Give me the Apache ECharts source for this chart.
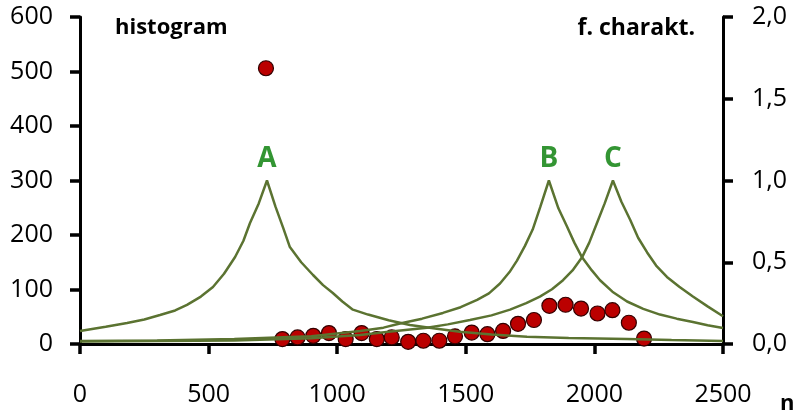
<!DOCTYPE html>
<html>
<head>
<meta charset="utf-8">
<script src="https://cdn.jsdelivr.net/npm/echarts@6/dist/echarts.min.js"></script>
<style>
html,body{margin:0;padding:0;background:#fff;}
#chart{width:797px;height:415px;}
</style>
</head>
<body>
<div id="chart"></div>
<script>
// histogram (left axis)
const histN = [723, 787, 846, 907, 968, 1033, 1095, 1154, 1212, 1276, 1335, 1397, 1458, 1523, 1584, 1645, 1703, 1765, 1825, 1888, 1948, 2012, 2070, 2134, 2193];
const histV = [506, 9, 12, 15, 20, 9, 20, 9, 12, 4, 6, 6, 14, 21, 18, 24, 37, 44, 70, 72, 65, 56, 62, 39, 10];

// frequency characteristic curves (right axis)
const curveA_n = [0, 100, 183, 250, 311, 370, 416, 470, 517, 560, 603, 635, 661, 695, 727, 760, 790, 816, 860, 906, 945, 983, 1020, 1061, 1120, 1200, 1283, 1380, 1477, 1600, 1738, 1900, 2127, 2300, 2500];
const curveA_v = [0.08, 0.105, 0.128, 0.15, 0.177, 0.205, 0.239, 0.29, 0.349, 0.43, 0.532, 0.63, 0.74, 0.86, 1.0, 0.84, 0.71, 0.593, 0.50, 0.422, 0.36, 0.312, 0.26, 0.21, 0.18, 0.145, 0.116, 0.095, 0.075, 0.058, 0.045, 0.037, 0.03, 0.024, 0.018];

const curveB_n = [0, 300, 600, 900, 1089, 1180, 1244, 1330, 1411, 1480, 1544, 1590, 1633, 1670, 1699, 1730, 1760, 1790, 1823, 1860, 1893, 1922, 1952, 1990, 2022, 2070, 2127, 2190, 2255, 2320, 2383, 2440, 2500];
const curveB_v = [0.018, 0.022, 0.03, 0.048, 0.08, 0.10, 0.125, 0.155, 0.19, 0.225, 0.27, 0.31, 0.37, 0.44, 0.51, 0.60, 0.70, 0.84, 1.0, 0.83, 0.72, 0.62, 0.53, 0.45, 0.39, 0.32, 0.26, 0.215, 0.18, 0.155, 0.135, 0.115, 0.098];

const curveC_n = [0, 300, 600, 900, 1089, 1200, 1349, 1430, 1516, 1600, 1672, 1735, 1788, 1835, 1878, 1915, 1952, 1980, 2010, 2040, 2072, 2105, 2139, 2170, 2205, 2240, 2282, 2330, 2383, 2440, 2500];
const curveC_v = [0.015, 0.018, 0.022, 0.035, 0.055, 0.075, 0.10, 0.12, 0.147, 0.175, 0.21, 0.25, 0.29, 0.335, 0.39, 0.45, 0.53, 0.62, 0.74, 0.86, 1.0, 0.87, 0.76, 0.65, 0.56, 0.48, 0.41, 0.35, 0.29, 0.23, 0.17];

const peakNames = ['A', 'B', 'C'];
const peakN = [727, 1823, 2072];
const peakV = [1.0, 1.0, 1.0];

const pair = (xs, ys) => xs.map((x, i) => [x, ys[i]]);
const lineColor = '#5b7331';
const FONT = '"Open Sans", sans-serif';

const chart = echarts.init(document.getElementById('chart'), null, {renderer: 'canvas'});
const mkLine = () => ({show: true, onZero: false, lineStyle: {color: '#000', width: 3}});
const mkTick = () => ({show: true, inside: false, length: 10, lineStyle: {color: '#000', width: 3.5}});

chart.setOption({
  animation: false,
  backgroundColor: '#fff',
  grid: {left: 80, right: 74, top: 17, bottom: 71},
  xAxis: {
    type: 'value', min: 0, max: 2500, interval: 500,
    axisLine: mkLine(), axisTick: mkTick(),
    splitLine: {show: false},
    axisLabel: {margin: 38, fontFamily: FONT, fontSize: 25, color: '#000', formatter: v => String(v)}
  },
  yAxis: [{
    type: 'value', min: 0, max: 600, interval: 100, position: 'left',
    axisLine: mkLine(), axisTick: mkTick(),
    splitLine: {show: false},
    axisLabel: {margin: 27, fontFamily: FONT, fontSize: 25, color: '#000', formatter: v => String(v)}
  }, {
    type: 'value', min: 0, max: 2, interval: 0.5, position: 'right',
    axisLine: mkLine(), axisTick: mkTick(),
    splitLine: {show: false},
    axisLabel: {margin: 29, fontFamily: FONT, fontSize: 25, color: '#000',
      formatter: v => v.toFixed(1).replace('.', ',')}
  }],
  graphic: [
    {type: 'text', left: 115, top: 17, style: {text: 'histogram', font: 'bold 22px "Open Sans", sans-serif', fill: '#000'}},
    {type: 'text', right: 102, top: 17, style: {text: 'f. charakt.', font: 'bold 23px "Open Sans", sans-serif', fill: '#000'}},
    {type: 'text', left: 780, top: 393, style: {text: 'n', font: 'bold 22px "Open Sans", sans-serif', fill: '#000'}}
  ],
  series: [
    {
      type: 'scatter', name: 'histogram', yAxisIndex: 0, z: 2,
      data: pair(histN, histV), symbolSize: 15,
      itemStyle: {color: '#bb0000', borderColor: '#330000', borderWidth: 1.2, opacity: 1}
    },
    {type: 'line', yAxisIndex: 1, z: 3, data: pair(curveA_n, curveA_v), showSymbol: false, symbol: 'none',
      lineStyle: {color: lineColor, width: 2.5}},
    {type: 'line', yAxisIndex: 1, z: 3, data: pair(curveB_n, curveB_v), showSymbol: false, symbol: 'none',
      lineStyle: {color: lineColor, width: 2.5}},
    {type: 'line', yAxisIndex: 1, z: 3, data: pair(curveC_n, curveC_v), showSymbol: false, symbol: 'none',
      lineStyle: {color: lineColor, width: 2.5}},
    {
      type: 'scatter', yAxisIndex: 1, z: 4, symbolSize: 2,
      itemStyle: {color: 'rgba(0,0,0,0)'},
      data: peakN.map((n, i) => ({value: [n, peakV[i]], name: peakNames[i]})),
      label: {show: true, position: 'top', distance: 6, formatter: p => p.name,
        fontFamily: FONT, fontWeight: 'bold', fontSize: 28, color: '#007a00'}
    }
  ]
});
</script>
</body>
</html>
